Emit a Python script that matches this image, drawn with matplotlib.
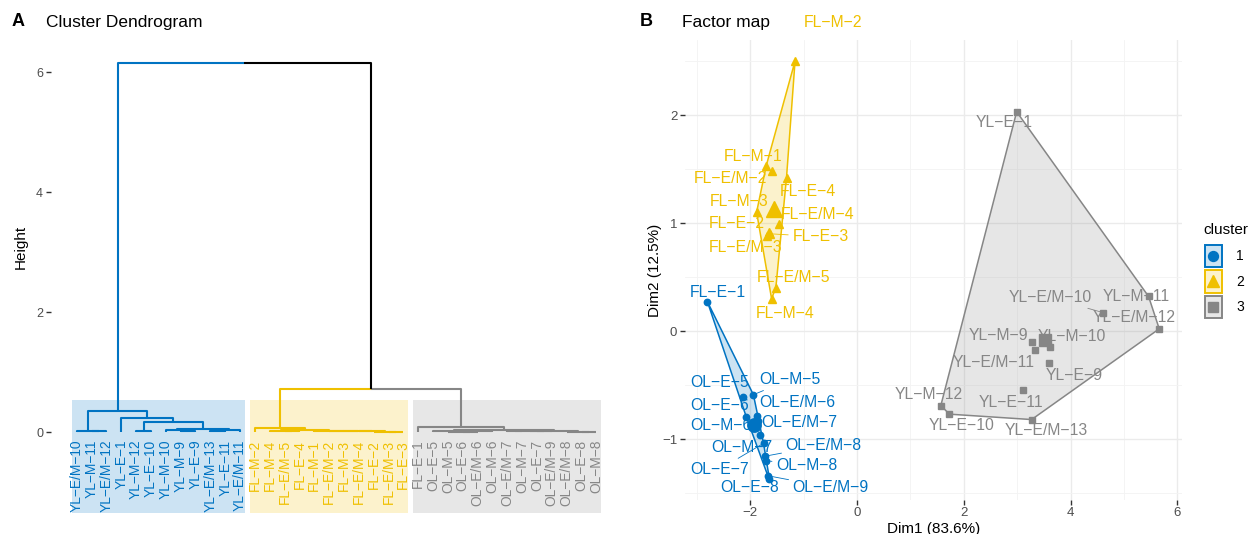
import numpy as np
import matplotlib
matplotlib.use("Agg")
import matplotlib.pyplot as plt
from matplotlib.patches import Rectangle, Polygon

plt.rcParams['font.family'] = ['Liberation Sans', 'DejaVu Sans']

# ---------------- data: dendrogram (panel A) ----------------
# each merge: (left, right, height); str = leaf label, int = index of an earlier merge
dend_merges = [
    ("YL-M-11", "YL-E/M-12", 0.012),   # 0
    ("YL-E/M-10", 0, 0.025),           # 1
    ("YL-M-12", "YL-E-10", 0.02),      # 2
    ("YL-M-9", "YL-E-9", 0.015),       # 3
    ("YL-M-10", 3, 0.03),              # 4
    ("YL-E/M-13", "YL-E-11", 0.02),    # 5
    (5, "YL-E/M-11", 0.035),           # 6
    (4, 6, 0.05),                      # 7
    (2, 7, 0.16),                      # 8
    ("YL-E-1", 8, 0.23),               # 9
    (1, 9, 0.35),                      # 10
    ("FL-E/M-5", "FL-E-4", 0.015),     # 11
    ("FL-M-4", 11, 0.025),             # 12
    ("FL-E/M-3", "FL-E-3", 0.005),     # 13
    ("FL-E-2", 13, 0.008),             # 14
    ("FL-E/M-4", 14, 0.01),            # 15
    ("FL-M-3", 15, 0.012),             # 16
    ("FL-E/M-2", 16, 0.014),           # 17
    ("FL-M-1", 17, 0.016),             # 18
    (12, 18, 0.03),                    # 19
    ("FL-M-2", 19, 0.07),              # 20
    ("OL-E-6", "OL-E/M-6", 0.005),     # 21
    ("OL-M-5", 21, 0.007),             # 22
    (22, "OL-M-6", 0.009),             # 23
    ("OL-E-5", 23, 0.012),             # 24
    ("OL-E/M-7", "OL-M-7", 0.01),      # 25
    ("OL-E-7", "OL-E/M-9", 0.012),     # 26
    (25, 26, 0.02),                    # 27
    ("OL-E-8", "OL-M-8", 0.003),       # 28
    ("OL-E/M-8", 28, 0.005),           # 29
    (27, 29, 0.022),                   # 30
    (24, 30, 0.033),                   # 31
    ("FL-E-1", 31, 0.09),              # 32
    (20, 32, 0.71),                    # 33
    (10, 33, 6.15),                    # 34
]
dend_k = 3
dend_colors = ["#0073C2", "#EFC000", "#868686"]
dend_yticks = [0, 2, 4, 6]

# ---------------- data: factor map (panel B) ----------------
c1_names = ["FL-E-1", "OL-E-5", "OL-M-5", "OL-E-6", "OL-E/M-6", "OL-M-6", "OL-E/M-7",
            "OL-M-7", "OL-E-7", "OL-E/M-8", "OL-M-8", "OL-E-8", "OL-E/M-9"]
c1_dim1 = [-2.80, -2.14, -1.94, -2.07, -1.88, -1.97, -1.86, -1.82, -1.75, -1.73, -1.71, -1.64, -1.67]
c1_dim2 = [0.27, -0.61, -0.59, -0.80, -0.79, -0.87, -0.83, -0.96, -1.04, -1.16, -1.20, -1.37, -1.34]

c2_names = ["FL-M-2", "FL-M-1", "FL-E/M-2", "FL-E-4", "FL-M-3", "FL-E/M-4", "FL-E-2",
            "FL-E-3", "FL-E/M-3", "FL-E/M-5", "FL-M-4"]
c2_dim1 = [-1.16, -1.70, -1.60, -1.32, -1.88, -1.47, -1.64, -1.62, -1.69, -1.52, -1.60]
c2_dim2 = [2.50, 1.53, 1.48, 1.42, 1.10, 0.99, 0.92, 0.90, 0.88, 0.40, 0.30]

c3_names = ["YL-E-1", "YL-M-11", "YL-E/M-10", "YL-E/M-12", "YL-M-9", "YL-M-10",
            "YL-E/M-11", "YL-E-9", "YL-E-11", "YL-M-12", "YL-E-10", "YL-E/M-13"]
c3_dim1 = [2.99, 5.46, 4.61, 5.66, 3.28, 3.61, 3.34, 3.59, 3.11, 1.57, 1.73, 3.27]
c3_dim2 = [2.03, 0.32, 0.17, 0.02, -0.10, -0.15, -0.18, -0.30, -0.55, -0.69, -0.77, -0.82]

cluster_ids = ["1", "2", "3"]
cluster_colors = ["#0073C2", "#EFC000", "#868686"]
cluster_markers = ["o", "^", "s"]
dim1_label = "Dim1 (83.6%)"
dim2_label = "Dim2 (12.5%)"

# ---------------- layout (label placement, in pixels) ----------------
label_offsets = {
    "FL-M-2": (38, 39), "FL-M-1": (-13, 9), "FL-E/M-2": (-41, -7), "FL-E-4": (21, -14),
    "FL-M-3": (-17, 11), "FL-E/M-4": (39, 10), "FL-E-2": (-33, 8), "FL-E-3": (50, -3),
    "FL-E/M-3": (-21, -12), "FL-E/M-5": (18, 10), "FL-M-4": (14, -15),
    "FL-E-1": (10, 9), "OL-E-5": (-23, 14), "OL-M-5": (36, 15), "OL-E-6": (-27, 12),
    "OL-E/M-6": (41, 14), "OL-M-6": (-31, -1), "OL-E/M-7": (42, -2), "OL-M-7": (-18, -13),
    "OL-E-7": (-44, -26), "OL-E/M-8": (59, 11), "OL-M-8": (41, -5), "OL-E-8": (-20, -9),
    "OL-E/M-9": (63, -12),
    "YL-E-1": (-12, -11), "YL-E/M-10": (-53, 15), "YL-M-11": (-12, 0), "YL-E/M-12": (-25, 11),
    "YL-M-9": (-34, 6), "YL-M-10": (22, 11), "YL-E/M-11": (-42, -12), "YL-E-9": (26, -12),
    "YL-E-11": (-12, -12), "YL-M-12": (-12, 11), "YL-E-10": (12, -11), "YL-E/M-13": (15, -11),
}
segment_labels = {"FL-E-3", "OL-M-5", "OL-E-7", "OL-E/M-8", "OL-M-8", "OL-E/M-9", "YL-E/M-10"}

W, H = 1254, 534
fig = plt.figure(figsize=(W / 100, H / 100), dpi=100)


def px_axes(left, top, right, bottom):
    return [left / W, 1 - bottom / H, (right - left) / W, (bottom - top) / H]


def disp(s):
    return s.replace("-", "\u2212")


def lighten(c, a=0.2):
    rgb = np.array(matplotlib.colors.to_rgb(c))
    return tuple(1 - a * (1 - rgb))

# ================= Panel A: dendrogram =================
axA = fig.add_axes(px_axes(50.7, 44, 622.4, 450))


def leaves_of(node):
    if isinstance(node, str):
        return [node]
    l, r, _ = dend_merges[node]
    return leaves_of(l) + leaves_of(r)


root = len(dend_merges) - 1
leaf_order = leaves_of(root)
leaf_x = {lab: i for i, lab in enumerate(leaf_order)}


def node_pos(node):
    if isinstance(node, str):
        return leaf_x[node], 0.0
    l, r, h = dend_merges[node]
    return (node_pos(l)[0] + node_pos(r)[0]) / 2, h


def node_h(node):
    return 0.0 if isinstance(node, str) else dend_merges[node][2]


heights_sorted = sorted([m[2] for m in dend_merges], reverse=True)
cut = (heights_sorted[dend_k - 2] + heights_sorted[dend_k - 1]) / 2

clusters = []


def find_clusters(node):
    if node_h(node) < cut:
        clusters.append(node)
    else:
        l, r, _ = dend_merges[node]
        find_clusters(l)
        find_clusters(r)


find_clusters(root)
node_color = {}


def paint(node, col):
    node_color[node] = col
    if not isinstance(node, str):
        paint(dend_merges[node][0], col)
        paint(dend_merges[node][1], col)


for ci, cn in enumerate(clusters):
    paint(cn, dend_colors[ci])

for idx, (l, r, h) in enumerate(dend_merges):
    x1, h1 = node_pos(l)
    x2, h2 = node_pos(r)
    xm = (x1 + x2) / 2
    for (xc, hc, child) in ((x1, h1, l), (x2, h2, r)):
        col = node_color.get(child, "black")
        axA.plot([xc, xc, xm], [hc, h, h], color=col, lw=1.5, solid_capstyle="butt", zorder=3)

rect_bottom = -1.35
for ci, cn in enumerate(clusters):
    lv = leaves_of(cn)
    xs = [leaf_x[v] for v in lv]
    axA.add_patch(Rectangle((min(xs) - 0.33, rect_bottom), max(xs) - min(xs) + 0.66,
                            cut - rect_bottom, facecolor=lighten(dend_colors[ci]),
                            edgecolor="none", zorder=1, clip_on=False))
    for v in lv:
        axA.text(leaf_x[v], -0.13, disp(v), rotation=90, ha="center", va="top",
                 fontsize=9.9, color=dend_colors[ci], zorder=4, clip_on=False)

axA.set_xlim(-1.75, len(leaf_order) - 1 + 1.75)
axA.set_ylim(-0.3, 6.47)
axA.set_yticks(dend_yticks)
axA.set_xticks([])
for s in axA.spines.values():
    s.set_visible(False)
axA.tick_params(axis="y", length=3.5, width=1.0, color="#333333", labelcolor="#4D4D4D",
                labelsize=9, pad=2)
axA.set_ylabel("Height", fontsize=11, color="black", labelpad=6)
axA.set_facecolor("none")

fig.text(12 / W, 1 - 22 / H, "A", fontsize=13, fontweight="bold", va="center", ha="left")
fig.text(46 / W, 1 - 22 / H, "Cluster Dendrogram", fontsize=12.5, va="center", ha="left")

# ================= Panel B: factor map =================
all_x = np.array(c1_dim1 + c2_dim1 + c3_dim1)
all_y = np.array(c1_dim2 + c2_dim2 + c3_dim2)
xr = all_x.max() - all_x.min()
yr = all_y.max() - all_y.min()
xlim = (all_x.min() - 0.05 * xr, all_x.max() + 0.05 * xr)
ylim = (all_y.min() - 0.05 * yr, all_y.max() + 0.05 * yr)
# panel placement matching the reference scale (0 at x=857, 53.4 px/unit; 0 at y=331, 108 px/unit)
axB = fig.add_axes(px_axes(857 + xlim[0] * 53.4, 331 - ylim[1] * 108,
                           857 + xlim[1] * 53.4, 331 - ylim[0] * 108))
axB.set_xlim(*xlim)
axB.set_ylim(*ylim)
axB.set_xticks([-2, 0, 2, 4, 6])
axB.set_yticks([-1, 0, 1, 2])
axB.set_xticks([-3, -1, 1, 3, 5], minor=True)
axB.set_yticks([-1.5, -0.5, 0.5, 1.5, 2.5], minor=True)
axB.set_xticklabels([disp(str(v)) for v in [-2, 0, 2, 4, 6]])
axB.set_yticklabels([disp(str(v)) for v in [-1, 0, 1, 2]])
axB.grid(which="major", color="#EBEBEB", lw=1.0, zorder=0)
axB.grid(which="minor", color="#F3F3F3", lw=0.6, zorder=0)
axB.set_axisbelow(True)
for s in axB.spines.values():
    s.set_visible(False)
axB.tick_params(which="major", length=3.5, width=1.0, color="#333333", labelcolor="#4D4D4D",
                labelsize=9.5, pad=2)
axB.tick_params(which="minor", length=0)
axB.set_xlabel(dim1_label, fontsize=11, labelpad=2)
axB.set_ylabel(dim2_label, fontsize=11, labelpad=0)


def convex_hull(pts):
    pts = sorted(set(pts))
    if len(pts) <= 2:
        return pts

    def cross(o, a, b):
        return (a[0] - o[0]) * (b[1] - o[1]) - (a[1] - o[1]) * (b[0] - o[0])
    lower, upper = [], []
    for p in pts:
        while len(lower) >= 2 and cross(lower[-2], lower[-1], p) <= 0:
            lower.pop()
        lower.append(p)
    for p in reversed(pts):
        while len(upper) >= 2 and cross(upper[-2], upper[-1], p) <= 0:
            upper.pop()
        upper.append(p)
    return lower[:-1] + upper[:-1]


groups = [(c1_names, c1_dim1, c1_dim2), (c2_names, c2_dim1, c2_dim2), (c3_names, c3_dim1, c3_dim2)]
msize = {"o": 4.6, "^": 5.2, "s": 4.4}
for gi, (names, xs, ys) in enumerate(groups):
    col = cluster_colors[gi]
    mk = cluster_markers[gi]
    hull = convex_hull(list(zip(xs, ys)))
    axB.add_patch(Polygon(hull, closed=True, facecolor=col, alpha=0.2, edgecolor="none", zorder=2))
    axB.add_patch(Polygon(hull, closed=True, facecolor="none", edgecolor=col, lw=1.1, zorder=3))
    axB.plot(xs, ys, linestyle="none", marker=mk, ms=msize[mk], color=col, mec=col, zorder=4)
    axB.plot([np.mean(xs)], [np.mean(ys)], linestyle="none", marker=mk, ms=msize[mk] * 2.1,
             color=col, mec=col, zorder=4)
    for n, x, y in zip(names, xs, ys):
        dx, dy = label_offsets[n]
        ap = None
        if n in segment_labels:
            ap = dict(arrowstyle="-", color=col, lw=0.6, shrinkA=1, shrinkB=2)
        axB.annotate(disp(n), (x, y), xytext=(dx, dy), textcoords="offset pixels",
                     ha="center", va="center", fontsize=11.3, color=col, zorder=5,
                     arrowprops=ap, annotation_clip=False)

fig.text(640 / W, 1 - 22 / H, "B", fontsize=13, fontweight="bold", va="center", ha="left")
fig.text(682 / W, 1 - 22 / H, "Factor map", fontsize=12.5, va="center", ha="left")

# ---------------- legend ----------------
fig.text(1203 / W, 1 - 230 / H, "cluster", fontsize=11, va="center", ha="left")
axL = fig.add_axes(px_axes(1200, 240, 1254, 322))
axL.set_xlim(1200, 1254)
axL.set_ylim(322, 240)
axL.axis("off")
key_tops = [244, 269.5, 295]
for gi, cid in enumerate(cluster_ids):
    col = cluster_colors[gi]
    t = key_tops[gi]
    axL.add_patch(Rectangle((1204.5, t + 0.5), 17.5, 22.5, facecolor=lighten(col),
                            edgecolor=col, lw=1.4))
    axL.plot([1213.2], [t + 11.8], marker=cluster_markers[gi], ms=msize[cluster_markers[gi]] * 1.55,
             color=col, mec=col, linestyle="none")
    axL.text(1236, t + 12, cid, fontsize=10, va="center", ha="left", color="black")

fig.savefig("out.png", dpi=100)
